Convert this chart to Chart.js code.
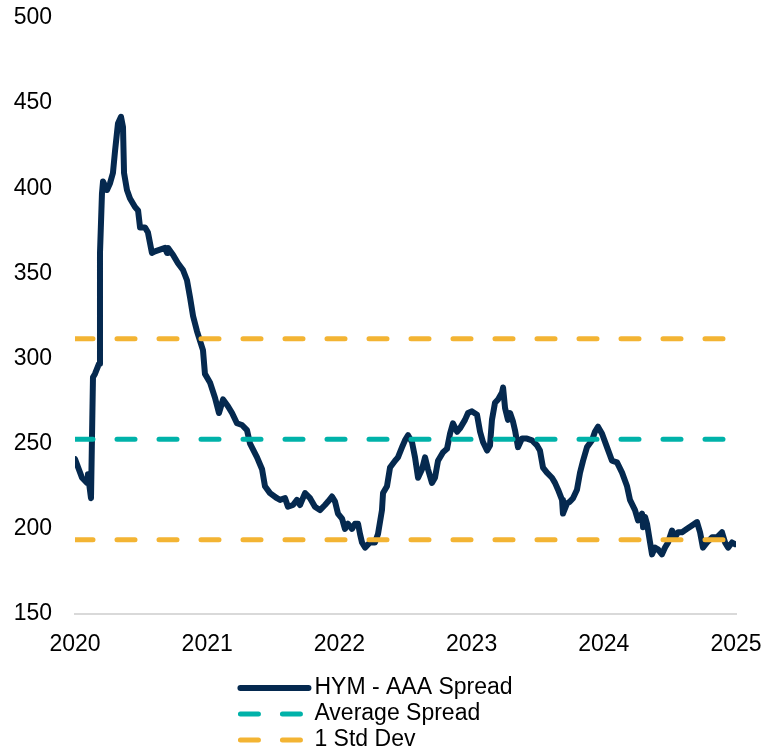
<!DOCTYPE html>
<html>
<head>
<meta charset="utf-8">
<script src="https://cdn.jsdelivr.net/npm/chart.js@4.4.1/dist/chart.umd.min.js"></script>
<style>
  html, body { margin: 0; padding: 0; background: #fff; }
  canvas { display: block; }
</style>
</head>
<body>
<canvas id="spread-chart" width="761" height="749"></canvas>
<script>
// HYM - AAA spread (decimal years)
const dates = [
  2020.000, 2020.053, 2020.091, 2020.098, 2020.121, 2020.136, 2020.151, 2020.182, 2020.189, 2020.204,
  2020.212, 2020.242, 2020.265, 2020.287, 2020.303, 2020.325, 2020.348, 2020.363, 2020.371, 2020.393,
  2020.416, 2020.454, 2020.477, 2020.492, 2020.530, 2020.552, 2020.582, 2020.605, 2020.643, 2020.681,
  2020.696, 2020.703, 2020.741, 2020.779, 2020.817, 2020.847, 2020.870, 2020.893, 2020.923, 2020.968,
  2020.983,
  2021.021, 2021.059, 2021.089, 2021.120, 2021.157, 2021.188, 2021.225, 2021.263, 2021.301, 2021.324,
  2021.377, 2021.415, 2021.437, 2021.475, 2021.528, 2021.551, 2021.589, 2021.611, 2021.649, 2021.679,
  2021.702, 2021.740, 2021.778, 2021.815, 2021.853, 2021.891, 2021.914, 2021.944, 2021.967, 2021.989,
  2022.020, 2022.042, 2022.065, 2022.095, 2022.118, 2022.141, 2022.156, 2022.171, 2022.194, 2022.231,
  2022.269, 2022.292, 2022.322, 2022.330, 2022.360, 2022.383, 2022.421, 2022.443, 2022.474, 2022.496,
  2022.519, 2022.549, 2022.572, 2022.595, 2022.625, 2022.648, 2022.670, 2022.700, 2022.723, 2022.746,
  2022.784, 2022.814, 2022.837, 2022.859, 2022.890, 2022.912, 2022.950, 2022.973,
  2023.003, 2023.041, 2023.064, 2023.086, 2023.117, 2023.139, 2023.154, 2023.177, 2023.200, 2023.230,
  2023.238, 2023.253, 2023.275, 2023.291, 2023.313, 2023.328, 2023.351, 2023.381, 2023.419, 2023.457,
  2023.495, 2023.517, 2023.540, 2023.570, 2023.608, 2023.631, 2023.654, 2023.684, 2023.691, 2023.722,
  2023.744, 2023.767, 2023.797, 2023.820, 2023.843, 2023.873, 2023.911, 2023.933, 2023.956, 2023.986,
  2024.024, 2024.062, 2024.100, 2024.138, 2024.176, 2024.198, 2024.236, 2024.259, 2024.289, 2024.297,
  2024.312, 2024.327, 2024.350, 2024.365, 2024.387, 2024.410, 2024.440, 2024.463, 2024.486, 2024.516,
  2024.539, 2024.561, 2024.592, 2024.630, 2024.667, 2024.705, 2024.728, 2024.750, 2024.781, 2024.819,
  2024.856, 2024.894, 2024.917, 2024.940, 2024.970, 2024.992
];
const spread = [
  241, 230, 227, 232, 218, 289, 291, 297, 362, 397,
  404, 399, 403, 409, 422, 438, 442, 436, 409, 399,
  394, 389, 387, 377, 377, 374, 362, 363, 364, 365,
  362, 365, 361, 356, 352, 346, 336, 325, 316, 305,
  291,
  286, 277, 268, 276, 272, 268, 262, 261, 258, 250,
  242, 235, 225, 221, 218, 217, 218, 213, 214, 217,
  214, 221, 218, 213, 211, 214, 216, 219, 216, 209,
  206, 200, 203, 200, 203, 203, 197, 192, 189, 192,
  192, 197, 211, 221, 225, 236, 240, 242, 248, 252,
  255, 251, 242, 230, 235, 242, 235, 227, 230, 240,
  245, 247, 256, 262, 257, 259, 264, 268,
  269, 267, 257, 251, 246, 249, 264, 274, 276, 280,
  283, 271, 264, 268, 263, 258, 248, 253, 253, 252,
  249, 246, 236, 233, 230, 227, 223, 217, 209, 215,
  216, 218, 223, 233, 240, 248, 252, 257, 260, 256,
  248, 240, 239, 233, 225, 217, 211, 205, 209, 201,
  207, 203, 192, 185, 189, 188, 185, 189, 192, 199,
  195, 198, 198, 200, 202, 204, 198, 189, 192, 195,
  195, 198, 192, 189, 192, 191
];

const avgSpread = 252.6;
const stdDev = 59;
const xRange = [2020, 2025];
const yTicks = [150, 200, 250, 300, 350, 400, 450, 500];

const FONT = '"Liberation Sans", Arial, sans-serif';
const NAVY = "#05294f";
const TEAL = "#00b2a9";
const GOLD = "#f3b433";

function flatLine(v) {
  return xRange.map(x => ({ x: x, y: v }));
}

// legend stacked in one column under the axis, like the original
const stackedLegend = {
  id: "stackedLegend",
  afterDraw(chart) {
    const ctx = chart.ctx;
    const items = chart.data.datasets.filter(ds => !ds.noLegend);
    ctx.save();
    ctx.font = "23px " + FONT;
    const textW = Math.max(...items.map(ds => ctx.measureText(ds.label).width));
    const sample = 70, gap = 6, rowH = 26;
    const left = (chart.width - sample - gap - textW) / 2 - 5;
    let y = chart.chartArea.bottom + 74;
    items.forEach(ds => {
      ctx.beginPath();
      ctx.setLineDash(ds.borderDash || []);
      ctx.lineCap = "round";
      ctx.lineWidth = ds.borderWidth;
      ctx.strokeStyle = ds.borderColor;
      ctx.moveTo(left + 2, y);
      ctx.lineTo(left + sample, y);
      ctx.stroke();
      ctx.setLineDash([]);
      ctx.fillStyle = "#000";
      ctx.textAlign = "left";
      ctx.textBaseline = "middle";
      ctx.fillText(ds.label, left + sample + gap, y);
      y += rowH;
    });
    ctx.restore();
  }
};

const data = {
  datasets: [
    {
      label: "HYM - AAA Spread",
      data: dates.map((d, i) => ({ x: d, y: spread[i] })),
      borderColor: NAVY,
      borderWidth: 6,
      borderJoinStyle: "round",
      borderCapStyle: "round",
      pointRadius: 0,
      tension: 0,
      order: 3
    },
    {
      label: "Average Spread",
      data: flatLine(avgSpread),
      borderColor: TEAL,
      borderWidth: 5,
      borderDash: [18, 24],
      borderCapStyle: "round",
      pointRadius: 0,
      order: 2
    },
    {
      label: "1 Std Dev",
      data: flatLine(avgSpread + stdDev),
      borderColor: GOLD,
      borderWidth: 5,
      borderDash: [18, 24],
      borderCapStyle: "round",
      pointRadius: 0,
      order: 1
    },
    {
      label: "1 Std Dev",
      noLegend: true,
      data: flatLine(avgSpread - stdDev),
      borderColor: GOLD,
      borderWidth: 5,
      borderDash: [18, 24],
      borderCapStyle: "round",
      pointRadius: 0,
      order: 0
    }
  ]
};

const options = {
  responsive: false,
  animation: false,
  layout: {
    padding: { top: 18, right: 25, bottom: 95, left: 0 }
  },
  scales: {
    x: {
      type: "linear",
      min: xRange[0],
      max: xRange[1],
      grid: { display: false },
      border: { display: true, color: "#d9d9d9", width: 2 },
      ticks: {
        stepSize: 1,
        padding: 9,
        color: "#000",
        font: { family: FONT, size: 23 },
        maxRotation: 0,
        callback: function(value) {
          return String(value);
        }
      },
      afterFit: function(scale) {
        scale.height = 40;
        scale.paddingLeft = 0;
        scale.paddingRight = 0;
      }
    },
    y: {
      min: yTicks[0],
      max: yTicks[yTicks.length - 1],
      grid: { display: false },
      border: { display: false },
      afterBuildTicks: function(scale) {
        scale.ticks = yTicks.map(v => ({ value: v }));
      },
      ticks: {
        padding: 15,
        color: "#000",
        font: { family: FONT, size: 23 }
      },
      afterFit: function(scale) {
        scale.width = 75;
        scale.paddingTop = 0;
        scale.paddingBottom = 0;
      }
    }
  },
  plugins: {
    legend: { display: false },
    tooltip: { enabled: false }
  }
};

const ctx = document.getElementById("spread-chart").getContext("2d");
new Chart(ctx, {
  type: "line",
  data: data,
  options: options,
  plugins: [stackedLegend]
});
</script>
</body>
</html>
